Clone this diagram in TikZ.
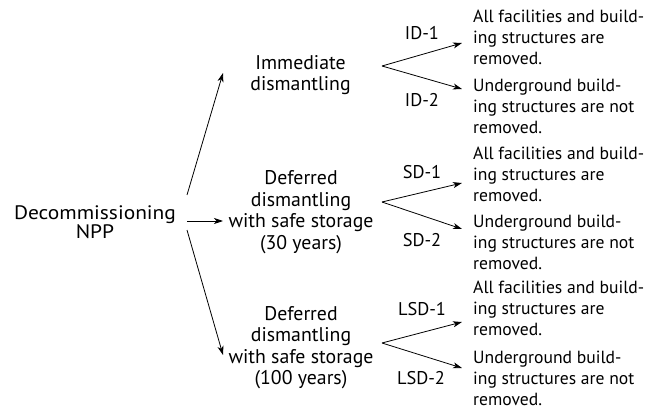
\documentclass[tikz,border=0pt]{standalone}
\usepackage{fontspec}
\setmainfont{PT Sans}
\newfontfamily\rootfont[FakeStretch=1.1]{PT Sans}
\usetikzlibrary{arrows.meta}
\begin{document}
\begin{tikzpicture}[x=1pt,y=-1pt,
  txt/.style={inner sep=0pt},
  rootf/.style={txt,align=center,font=\rootfont\fontsize{19.5}{19.5}\selectfont},
  ctr/.style={txt,align=center,font=\fontsize{19.8}{21.5}\selectfont},
  lft/.style={txt,align=left,anchor=west,font=\fontsize{17.6}{21}\selectfont},
  lbl/.style={txt,font=\fontsize{18.4}{21}\selectfont},
  arr/.style={line width=0.8pt,-{Stealth[length=9pt,width=6pt,inset=2.5pt]}}]
\useasboundingbox (0,0) rectangle (659,409);
% texts
\node[rootf] (root) at (95,222) {Decommissioning\\NPP};
\node[ctr] (im) at (300.5,75) {Immediate\\dismantling};
\node[ctr] (sd) at (301,212) {Deferred\\dismantling\\with safe storage\\(30 years)};
\node[ctr] (lsd) at (301,347.5) {Deferred\\dismantling\\with safe storage\\(100 years)};
\node[lft] (a1) at (473,37) {All facilities and build-\\ing structures are\\removed.};
\node[lft] (u1) at (473,106) {Underground build-\\ing structures are not\\removed.};
\node[lft] (a2) at (473,174) {All facilities and build-\\ing structures are\\removed.};
\node[lft] (u2) at (473,242) {Underground build-\\ing structures are not\\removed.};
\node[lft] (a3) at (473,308) {All facilities and build-\\ing structures are\\removed.};
\node[lft] (u3) at (473,378) {Underground build-\\ing structures are not\\removed.};
\node[lbl] (id1) at (422,33) {ID-1};
\node[lbl] (id2) at (422,100) {ID-2};
\node[lbl] (sd1) at (422,172) {SD-1};
\node[lbl] (sd2) at (422,240) {SD-2};
\node[lbl] (lsd1) at (422,309) {LSD-1};
\node[lbl] (lsd2) at (421,378) {LSD-2};
% connector points
\coordinate (r1) at (187,195);
\coordinate (r2) at (187,221);
\coordinate (r3) at (187,230);
\coordinate (t1) at (223,73);
\coordinate (t2) at (223,221);
\coordinate (t3) at (223,355);
\coordinate (f1) at (382,66);
\coordinate (f2) at (382,202);
\coordinate (f3) at (382,343);
\coordinate (e1a) at (462,43);
\coordinate (e1b) at (462,89);
\coordinate (e2a) at (462,183);
\coordinate (e2b) at (462,229);
\coordinate (e3a) at (462,322);
\coordinate (e3b) at (462,368);
% arrows
\draw[arr] (r1) -- (t1);
\draw[arr] (r2) -- (t2);
\draw[arr] (r3) -- (t3);
\draw[arr] (f1) -- (e1a);
\draw[arr] (f1) -- (e1b);
\draw[arr] (f2) -- (e2a);
\draw[arr] (f2) -- (e2b);
\draw[arr] (f3) -- (e3a);
\draw[arr] (f3) -- (e3b);
\end{tikzpicture}
\end{document}
